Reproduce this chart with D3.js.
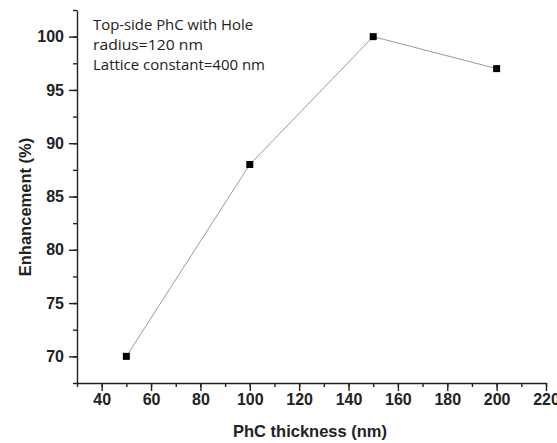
<!DOCTYPE html>
<html>
<head>
<meta charset="utf-8">
<script src="https://cdn.jsdelivr.net/npm/d3@7"></script>
<style>
  body { margin: 0; background: #fff; }
  svg { display: block; }
  .tick text { font-family: 'Liberation Sans', Arial, sans-serif; font-weight: 700; font-size: 16px; }
</style>
</head>
<body>
<svg id="chart" width="557" height="443"></svg>
<script>
const thickness = [50, 100, 150, 200];
const enhancement = [70, 88, 100, 97];
const xTicks = [40, 60, 80, 100, 120, 140, 160, 180, 200, 220];
const yTicks = [70, 75, 80, 85, 90, 95, 100];
const notes = ["Top-side PhC with Hole", "radius=120 nm", "Lattice constant=400 nm"];

const svg = d3.select("#chart");
const plotL = 77, plotR = 546, plotT = 10, plotB = 383;

const x = d3.scaleLinear().domain([30, 220]).range([plotL, plotR]);
const y = d3.scaleLinear().domain([67.5, 102.5]).range([plotB, plotT]);

const labelFont = "bold 16.5px 'Liberation Sans', Arial, sans-serif";

// minor ticks first, majors on top
svg.append("g")
  .attr("transform", `translate(0,${plotB})`)
  .call(d3.axisBottom(x).tickValues(d3.range(30, 221, 10)).tickSize(4).tickFormat(""))
  .call(g => g.select(".domain").remove());
svg.append("g")
  .attr("transform", `translate(${plotL},0)`)
  .call(d3.axisLeft(y).tickValues(d3.range(67.5, 102.6, 2.5)).tickSize(4).tickFormat(""))
  .call(g => g.select(".domain").remove());

svg.append("g")
  .attr("transform", `translate(0,${plotB})`)
  .call(d3.axisBottom(x).tickValues(xTicks).tickSize(8).tickSizeOuter(0).tickPadding(3));

svg.append("g")
  .attr("transform", `translate(${plotL},0)`)
  .call(d3.axisLeft(y).tickValues(yTicks).tickSize(8).tickSizeOuter(0).tickPadding(5));

svg.selectAll(".tick text").attr("fill", "#222");
svg.selectAll(".domain, .tick line").attr("stroke", "#222").attr("stroke-width", 1.4);

const pts = thickness.map((t, i) => [t, enhancement[i]]);

svg.append("path")
  .datum(pts)
  .attr("fill", "none")
  .attr("stroke", "#999")
  .attr("stroke-width", 1)
  .attr("d", d3.line().x(d => x(d[0])).y(d => y(d[1])));

const sz = 7;
svg.selectAll("rect.pt")
  .data(pts)
  .enter()
  .append("rect")
  .attr("class", "pt")
  .attr("x", d => x(d[0]) - sz / 2)
  .attr("y", d => y(d[1]) - sz / 2)
  .attr("width", sz)
  .attr("height", sz)
  .attr("fill", "#000");

// annotation
const noteWidths = [160, 110, 172];
svg.selectAll("text.note")
  .data(notes)
  .enter()
  .append("text")
  .attr("class", "note")
  .text(d => d)
  .attr("x", 93)
  .attr("y", (d, i) => 30 + i * 20)
  .attr("textLength", (d, i) => noteWidths[i])
  .attr("lengthAdjust", "spacingAndGlyphs")
  .attr("fill", "#222")
  .style("font", "15px 'Open Sans', sans-serif");

svg.append("text")
  .text("PhC thickness (nm)")
  .attr("x", 310)
  .attr("y", 437)
  .attr("text-anchor", "middle")
  .attr("fill", "#222")
  .style("font", labelFont);

svg.append("text")
  .text("Enhancement (%)")
  .attr("transform", "translate(31,207) rotate(-90)")
  .attr("text-anchor", "middle")
  .attr("fill", "#222")
  .style("font", labelFont);
</script>
</body>
</html>
